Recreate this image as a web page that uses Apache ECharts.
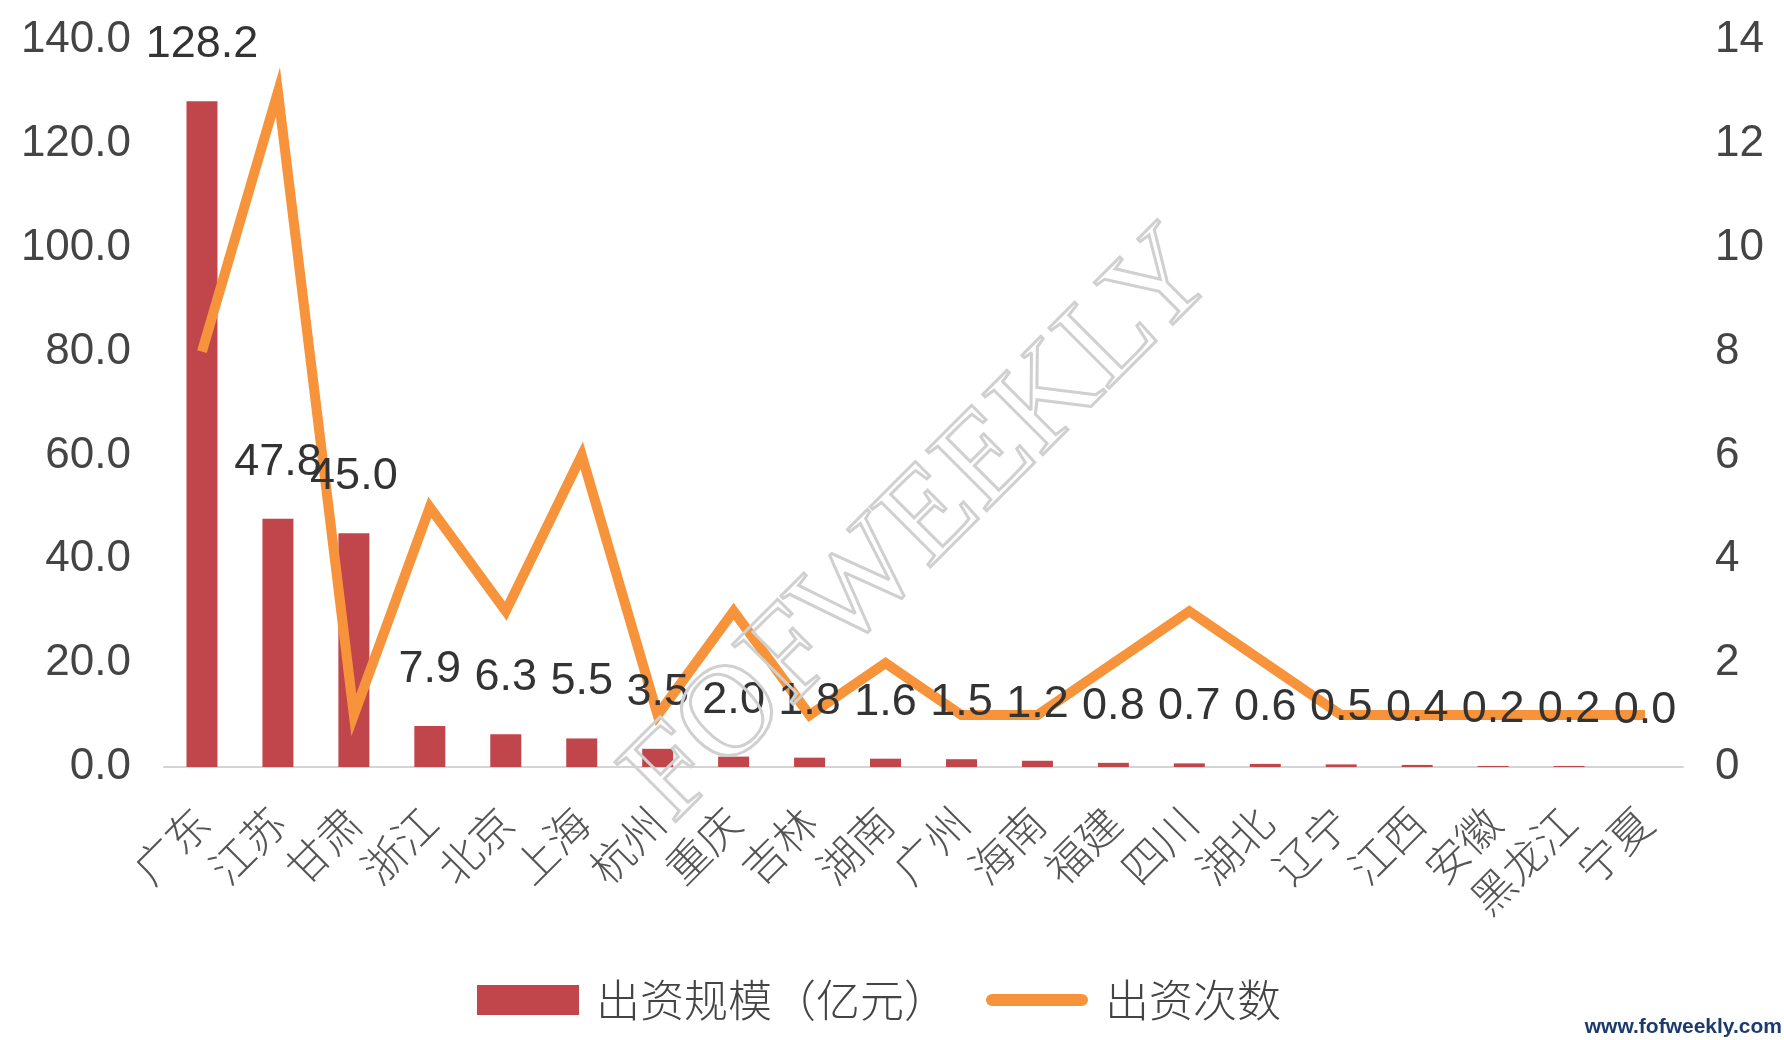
<!DOCTYPE html>
<html>
<head>
<meta charset="utf-8">
<script src="https://cdn.jsdelivr.net/npm/echarts@6/dist/echarts.min.js"></script>
<style>
html,body{margin:0;padding:0;background:#fff;}
#chart{width:1784px;height:1040px;}
</style>
</head>
<body>
<div id="chart"></div>
<script>
const categories = ['广东','江苏','甘肃','浙江','北京','上海','杭州','重庆','吉林','湖南','广州','海南','福建','四川','湖北','辽宁','江西','安徽','黑龙江','宁夏'];
const amountValues = [128.2,47.8,45.0,7.9,6.3,5.5,3.5,2.0,1.8,1.6,1.5,1.2,0.8,0.7,0.6,0.5,0.4,0.2,0.2,0.0];
const countValues = [8,13,1,5,3,6,1,3,1,2,1,1,2,3,2,1,1,1,1,1];
const seriesNames = ['出资规模（亿元）','出资次数'];
const watermarkText = 'FOFWEEKLY';
const siteText = 'www.fofweekly.com';

const numFont = "'Liberation Sans', Arial, 'Noto Sans CJK SC', sans-serif";
const cjkFont = "'Noto Sans CJK SC', sans-serif";

const chart = echarts.init(document.getElementById('chart'), null, {renderer:'canvas'});
chart.setOption({
  backgroundColor: '#ffffff',
  animation: false,
  grid: {left: 164, right: 101, top: 40, bottom: 273},
  legend: {
    data: [
      {name: seriesNames[0], icon: 'rect'},
      {name: seriesNames[1], icon: 'path://M6,0 L94,0 A6,6 0 0 1 94,12 L6,12 A6,6 0 0 1 6,0 Z'}
    ],
    top: 973,
    left: 472,
    itemWidth: 102,
    itemHeight: 30,
    itemGap: 38,
    textStyle: {fontFamily: cjkFont, fontSize: 44, color: '#444', fontWeight: 300, padding: [0, 0, 0, 12]}
  },
  xAxis: {
    type: 'category',
    data: categories,
    axisLine: {lineStyle: {color: '#d4d4d4', width: 2}},
    axisTick: {show: false},
    axisLabel: {
      rotate: 45, interval: 0, margin: 48,
      fontFamily: cjkFont, fontSize: 43, color: '#555', fontWeight: 300
    }
  },
  yAxis: [
    {
      type: 'value', min: 0, max: 140, interval: 20,
      splitLine: {show: false}, axisLine: {show: false}, axisTick: {show: false},
      axisLabel: {
        formatter: v => v.toFixed(1), margin: 33,
        fontFamily: numFont, fontSize: 44, color: '#444'
      }
    },
    {
      type: 'value', min: 0, max: 14, interval: 2,
      splitLine: {show: false}, axisLine: {show: false}, axisTick: {show: false},
      axisLabel: {margin: 32, fontFamily: numFont, fontSize: 44, color: '#444'}
    }
  ],
  series: [
    {
      name: seriesNames[0], type: 'bar', data: amountValues, barWidth: 31, z: 2,
      itemStyle: {color: '#C0464B'}
    },
    {
      name: seriesNames[1], type: 'line', yAxisIndex: 1, data: countValues, z: 3,
      showSymbol: false, symbol: 'none',
      lineStyle: {color: '#F7933B', width: 10, join: 'miter'},
      itemStyle: {color: '#F7933B'}
    },
    {
      name: 'labels', type: 'bar', data: amountValues, barWidth: 31, barGap: '-100%', z: 5,
      itemStyle: {color: 'rgba(0,0,0,0)'},
      label: {
        show: true, position: 'top', distance: 34,
        formatter: p => p.value.toFixed(1),
        fontFamily: numFont, fontSize: 45, color: '#333'
      }
    }
  ],
  graphic: [
    {
      type: 'text', x: 922, y: 527, rotation: Math.PI / 4, z: 100,
      style: {
        text: watermarkText, fontFamily: "'Liberation Serif', 'DejaVu Serif', serif",
        fontSize: 130, fill: 'rgba(255,255,255,0)', stroke: '#d0d0d0', lineWidth: 3,
        align: 'center', verticalAlign: 'middle'
      }
    },
    {
      type: 'text', right: 2, bottom: 2, z: 100,
      style: {
        text: siteText, fontFamily: numFont, fontSize: 21, fontWeight: 'bold', fill: '#1b3a6e'
      }
    }
  ]
});
</script>
</body>
</html>
